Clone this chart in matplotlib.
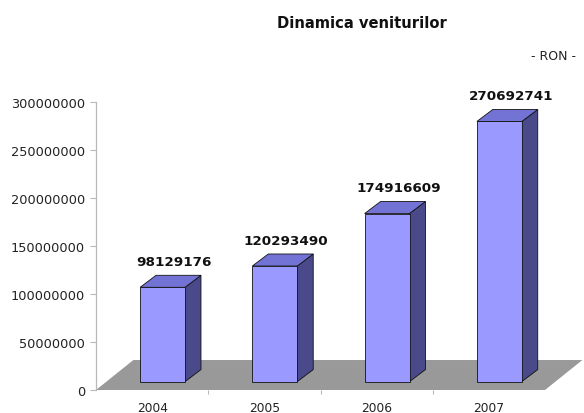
import matplotlib
matplotlib.use("Agg")
import matplotlib.pyplot as plt
from matplotlib.patches import Polygon

years = ["2004", "2005", "2006", "2007"]
venituri = [98129176, 120293490, 174916609, 270692741]
y_ticks = [0, 50000000, 100000000, 150000000, 200000000, 250000000, 300000000]
y_tick_labels = [str(v) for v in y_ticks]

# pseudo-3D geometry (category units on x, RON on y)
floor_dx, floor_dy = 0.333, 31.2e6
bar_w = 0.40
bar_pos = 0.28                      # how far back the bar sits on the floor
bar_dx, bar_dy = 0.142, 12.5e6
front_c, top_c, side_c = "#9999ff", "#7373d6", "#4a4a8a"

fig = plt.figure(figsize=(5.84, 4.14), dpi=100)
ax = fig.add_axes([96 / 584, 23 / 414, 449 / 584, 288.3 / 414])
ax.set_xlim(0, 4)
ax.set_ylim(0, 300e6)

# floor
ax.add_patch(Polygon([(0, 0), (4, 0), (4 + floor_dx, floor_dy), (floor_dx, floor_dy)],
                     closed=True, facecolor="#999999", edgecolor="none", clip_on=False, zorder=1))

sx, sy = bar_pos * floor_dx, bar_pos * floor_dy
for i, v in enumerate(venituri):
    x0 = i + 0.5 - bar_w / 2 + sx
    x1 = x0 + bar_w
    y0, y1 = sy, sy + v
    kw = dict(closed=True, edgecolor="#111111", linewidth=0.6, clip_on=False, zorder=3)
    ax.add_patch(Polygon([(x1, y0), (x1 + bar_dx, y0 + bar_dy), (x1 + bar_dx, y1 + bar_dy), (x1, y1)],
                         facecolor=side_c, **kw))
    ax.add_patch(Polygon([(x0, y1), (x1, y1), (x1 + bar_dx, y1 + bar_dy), (x0 + bar_dx, y1 + bar_dy)],
                         facecolor=top_c, **kw))
    ax.add_patch(Polygon([(x0, y0), (x1, y0), (x1, y1), (x0, y1)], facecolor=front_c, **kw))
    ax.annotate(str(v), xy=((x0 + x1 + bar_dx) / 2 + 0.03, y1 + bar_dy), xytext=(0, 10),
                textcoords="offset points", ha="center", va="center",
                fontsize=9.7, fontweight="bold", color="#111111", annotation_clip=False)

for s in ["top", "right", "bottom"]:
    ax.spines[s].set_visible(False)
ax.spines["left"].set_color("#b8b8b8")
ax.spines["left"].set_linewidth(0.9)

ax.set_yticks(y_ticks)
ax.set_yticklabels(y_tick_labels)
ax.tick_params(axis="y", length=4, width=0.8, color="#b8b8b8", pad=4,
               labelsize=9.3, labelcolor="#222222")

ax.set_xticks([1, 2, 3])
ax.set_xticklabels([])
ax.tick_params(axis="x", which="major", length=3, width=0.8, color="#b8b8b8")
ax.set_xticks([i + 0.5 for i in range(len(years))], minor=True)
ax.set_xticklabels(years, minor=True)
ax.tick_params(axis="x", which="minor", length=0, pad=8, labelsize=8.8, labelcolor="#222222")

fig.text(362 / 584, 1 - 23 / 414, "Dinamica veniturilor", ha="center", va="center",
         fontsize=10.6, fontweight="bold", color="#111111")
fig.text(576 / 584, 1 - 57 / 414, "- RON -", ha="right", va="center",
         fontsize=9, color="#222222")

fig.savefig("out.png", dpi=100)
